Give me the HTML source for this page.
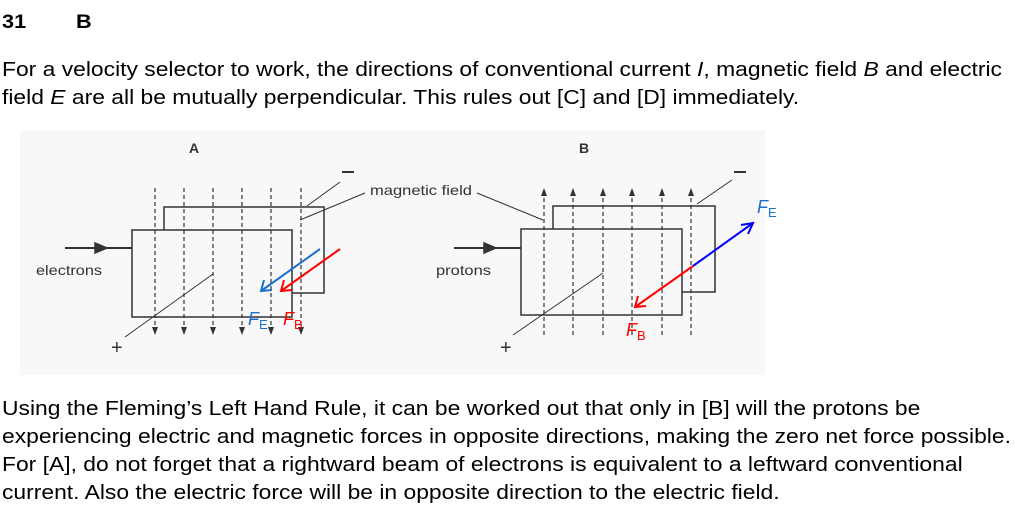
<!DOCTYPE html>
<html><head><meta charset="utf-8"><style>
body{margin:0;width:1015px;height:523px;background:#fff;position:relative;overflow:hidden;font-family:"Liberation Sans",Arial,sans-serif;color:#000}
.t{position:absolute;left:2px;font-size:20px;line-height:22px;white-space:nowrap;transform:scaleX(1.143);transform-origin:0 0}
</style></head><body>
<div class="t" style="top:12px;font-weight:bold;font-size:19px">31</div>
<div class="t" style="top:12px;left:76px;font-weight:bold;font-size:19px">B</div>
<div class="t" style="top:59px">For a velocity selector to work, the directions of conventional current <i>I</i>, magnetic field <i>B</i> and electric</div>
<div class="t" style="top:87px">field <i>E</i> are all be mutually perpendicular. This rules out [C] and [D] immediately.</div>
<div class="t" style="top:398px">Using the Fleming’s Left Hand Rule, it can be worked out that only in [B] will the protons be</div>
<div class="t" style="top:426px">experiencing electric and magnetic forces in opposite directions, making the zero net force possible.</div>
<div class="t" style="top:454px">For [A], do not forget that a rightward beam of electrons is equivalent to a leftward conventional</div>
<div class="t" style="top:482px">current. Also the electric force will be in opposite direction to the electric field.</div>
<svg style="position:absolute;left:0;top:0" width="1015" height="523" font-family="Liberation Sans,Arial,sans-serif">
<rect x="20" y="130" width="745" height="245" fill="#f8f8f8"/>
<defs>
<marker id="ah" markerWidth="8" markerHeight="8" refX="7" refY="4" orient="auto" markerUnits="userSpaceOnUse"><path d="M0,1 L8,4 L0,7 Z" fill="#333"/></marker>
</defs>
<g stroke="#333" fill="none" stroke-width="1.5">
<rect x="164" y="207" width="160" height="86"/>
<rect x="132" y="230" width="160" height="87" fill="#f8f8f8"/>
<g stroke-dasharray="4,3" stroke-width="1.2">
<line x1="155" y1="188" x2="155" y2="334" marker-end="url(#ah)"/>
<line x1="184" y1="188" x2="184" y2="334" marker-end="url(#ah)"/>
<line x1="213" y1="188" x2="213" y2="334" marker-end="url(#ah)"/>
<line x1="242" y1="188" x2="242" y2="334" marker-end="url(#ah)"/>
<line x1="271" y1="188" x2="271" y2="334" marker-end="url(#ah)"/>
<line x1="301" y1="188" x2="301" y2="334" marker-end="url(#ah)"/>
</g>
<line x1="65" y1="248" x2="132" y2="248" stroke-width="2"/>
<path d="M95,243 L107,248 L95,253Z" fill="#333"/>
<line x1="125" y1="337" x2="213" y2="274" stroke-width="1"/>
<line x1="340" y1="182" x2="307" y2="206" stroke-width="1"/>
<line x1="365" y1="193" x2="300" y2="220" stroke-width="1"/>
<rect x="553" y="206" width="162" height="86"/>
<rect x="521" y="229" width="161" height="86" fill="#f8f8f8"/>
<g stroke-dasharray="4,3" stroke-width="1.2">
<line x1="544" y1="335" x2="544" y2="189" marker-end="url(#ah)"/>
<line x1="573" y1="335" x2="573" y2="189" marker-end="url(#ah)"/>
<line x1="603" y1="335" x2="603" y2="189" marker-end="url(#ah)"/>
<line x1="632" y1="335" x2="632" y2="189" marker-end="url(#ah)"/>
<line x1="662" y1="335" x2="662" y2="189" marker-end="url(#ah)"/>
<line x1="691" y1="335" x2="691" y2="189" marker-end="url(#ah)"/>
</g>
<line x1="454" y1="248" x2="521" y2="248" stroke-width="2"/>
<path d="M484,243 L496,248 L484,253Z" fill="#333"/>
<line x1="513" y1="335" x2="603" y2="273" stroke-width="1"/>
<line x1="732" y1="180" x2="697" y2="204" stroke-width="1"/>
<line x1="477" y1="193" x2="543" y2="220" stroke-width="1"/>
</g>
<g fill="none" stroke-width="2">
<line x1="320" y1="249" x2="261" y2="291" stroke="#1a6fd0"/>
<path d="M264,280 L261,291 L272,290" stroke="#1a6fd0"/>
<line x1="340" y1="249" x2="281" y2="291" stroke="#f00"/>
<path d="M284,280 L281,291 L292,290" stroke="#f00"/>
<line x1="753" y1="223" x2="693" y2="266" stroke="#00f"/>
<path d="M741,225 L753,223 L748,234" stroke="#00f"/>
<line x1="693" y1="266" x2="635" y2="307" stroke="#f00"/>
<path d="M638,296 L635,307 L646,306" stroke="#f00"/>
</g>
<g fill="#333" font-size="14">
<text x="189" y="153" font-weight="bold" font-size="14">A</text>
<text x="579" y="153" font-weight="bold" font-size="14">B</text>
<text x="36" y="275" textLength="66" lengthAdjust="spacingAndGlyphs">electrons</text>
<text x="436" y="275" textLength="55" lengthAdjust="spacingAndGlyphs">protons</text>
<text x="370" y="195" textLength="102" lengthAdjust="spacingAndGlyphs">magnetic field</text>
<text x="111" y="354" font-size="20">+</text>
<text x="500" y="354" font-size="20">+</text>
<rect x="342" y="171" width="12" height="2"/>
<rect x="734" y="171" width="12" height="2"/>
</g>
<text x="248" y="325" font-size="18" font-style="italic" fill="#1a6fd0">F<tspan font-style="normal" font-size="13" dy="4">E</tspan></text>
<text x="283" y="325" font-size="18" font-style="italic" fill="#f00">F<tspan font-style="normal" font-size="13" dy="4">B</tspan></text>
<text x="757" y="213" font-size="18" font-style="italic" fill="#1a6fd0">F<tspan font-style="normal" font-size="13" dy="4">E</tspan></text>
<text x="626" y="336" font-size="18" font-style="italic" fill="#f00">F<tspan font-style="normal" font-size="13" dy="4">B</tspan></text>
</svg>
</body></html>
